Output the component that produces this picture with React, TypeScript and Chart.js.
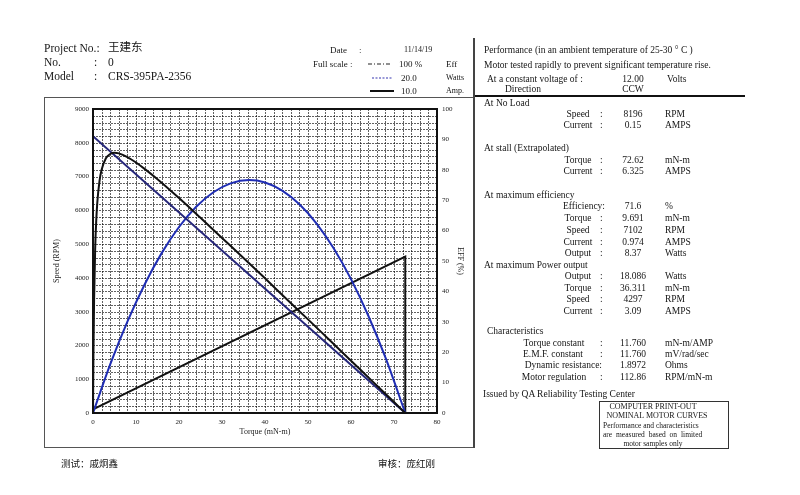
import React, { useEffect, useRef } from 'react';
import { Chart, registerables } from 'chart.js';
Chart.register(...registerables);

// ---- data ----
const speedTorque = [0, 72.62];
const speedRpm = [8196, 0];

const currentTorque = [0, 72.62, 72.62];
const currentAmp = [0.15, 6.325, 0];

const powerTorque = [0, 4, 8, 12, 16, 20, 24, 28, 32, 36.31, 40, 44, 48, 52, 56, 60, 64, 68, 72.62];
const powerWatts = [0, 3.77, 7.09, 9.98, 12.43, 14.44, 16.01, 17.14, 17.83, 18.086, 17.9, 17.27, 16.21, 14.71, 12.77, 10.39, 7.57, 4.31, 0];

const effTorque = [0, 0.1, 0.25, 0.5, 0.75, 1, 1.5, 2, 3, 4, 5, 6, 8, 10, 12, 15, 20, 25, 30, 35, 40, 45, 50, 55, 60, 65, 70, 72.62];
const effPct = [0, 19.1, 37.0, 53.8, 63.2, 69.2, 76.2, 80.0, 83.8, 85.2, 85.6, 85.4, 84.2, 82.4, 80.3, 76.9, 70.7, 64.2, 57.6, 51.0, 44.3, 37.5, 30.8, 24.0, 17.2, 10.4, 3.6, 0];

const xMinorStep = 2;
const yMinorStep = 200;

const noLoadRows = [
  ['Speed', '8196', 'RPM'],
  ['Current', '0.15', 'AMPS'],
];
const stallRows = [
  ['Torque', '72.62', 'mN-m'],
  ['Current', '6.325', 'AMPS'],
];
const maxEffRows = [
  ['Torque', '9.691', 'mN-m'],
  ['Speed', '7102', 'RPM'],
  ['Current', '0.974', 'AMPS'],
  ['Output', '8.37', 'Watts'],
];
const maxPowRows = [
  ['Output', '18.086', 'Watts'],
  ['Torque', '36.311', 'mN-m'],
  ['Speed', '4297', 'RPM'],
  ['Current', '3.09', 'AMPS'],
];
const charRows = [
  ['Torque constant', '11.760', 'mN-m/AMP'],
  ['E.M.F. constant', '11.760', 'mV/rad/sec'],
  ['Motor regulation', '112.86', 'RPM/mN-m'],
];

const SERIF = "'Liberation Serif', 'Times New Roman', 'Noto Sans CJK SC', serif";

function T({ x, y, s = 9.5, a = 'l', children, style }: any) {
  const tx = a === 'c' ? '-50%' : a === 'r' ? '-100%' : '0';
  return (
    <div
      style={{
        position: 'absolute',
        left: x,
        top: y,
        transform: `translate(${tx}, -50%)`,
        fontSize: s,
        lineHeight: 1,
        whiteSpace: 'nowrap',
        color: '#151515',
        ...style,
      }}
    >
      {children}
    </div>
  );
}

function Row({ y, r, lx = 578, la = 'c' }: any) {
  return (
    <>
      <T x={lx} y={y} a={la}>{r[0]}</T>
      <T x={600} y={y}>:</T>
      <T x={633} y={y} a="c">{r[1]}</T>
      <T x={665} y={y}>{r[2]}</T>
    </>
  );
}

const gridPlugin = {
  id: 'denseGrid',
  beforeDatasetsDraw(chart: any) {
    const { ctx, chartArea } = chart;
    const xs = chart.scales.x;
    const ys = chart.scales.y;
    ctx.save();
    ctx.strokeStyle = 'rgba(0,0,0,0.62)';
    ctx.lineWidth = 1;
    ctx.setLineDash([2, 1]);
    for (let v = 0; v <= 80; v += xMinorStep) {
      const px = Math.round(xs.getPixelForValue(v)) + 0.5;
      ctx.beginPath();
      ctx.moveTo(px, chartArea.top);
      ctx.lineTo(px, chartArea.bottom);
      ctx.stroke();
    }
    for (let v = 0; v <= 9000; v += yMinorStep) {
      const py = Math.round(ys.getPixelForValue(v)) + 0.5;
      ctx.beginPath();
      ctx.moveTo(chartArea.left, py);
      ctx.lineTo(chartArea.right, py);
      ctx.stroke();
    }
    ctx.restore();
  },
  afterDraw(chart: any) {
    const { ctx, chartArea } = chart;
    ctx.save();
    ctx.strokeStyle = '#111';
    ctx.lineWidth = 2;
    ctx.setLineDash([]);
    ctx.strokeRect(chartArea.left, chartArea.top, chartArea.right - chartArea.left, chartArea.bottom - chartArea.top);
    ctx.restore();
  },
};

const plainLabel = (v: any) => String(v);

export default function App() {
  const ref = useRef<HTMLCanvasElement | null>(null);

  useEffect(() => {
    if (!ref.current) return;
    const tickFont = { family: SERIF, size: 7 };
    const titleFont = { family: SERIF, size: 8 };
    const chart = new Chart(ref.current, {
      type: 'scatter',
      data: {
        datasets: [
          {
            label: 'Eff',
            data: effTorque.map((t, i) => ({ x: t, y: effPct[i] })),
            yAxisID: 'yEff',
            showLine: true,
            borderColor: '#111',
            borderWidth: 2,
            pointRadius: 0,
            cubicInterpolationMode: 'monotone',
          },
          {
            label: 'Speed',
            data: speedTorque.map((t, i) => ({ x: t, y: speedRpm[i] })),
            yAxisID: 'y',
            showLine: true,
            borderColor: '#25267a',
            borderWidth: 2,
            pointRadius: 0,
          },
          {
            label: 'Watts',
            data: powerTorque.map((t, i) => ({ x: t, y: powerWatts[i] })),
            yAxisID: 'yPow',
            showLine: true,
            borderColor: '#1f2db4',
            borderWidth: 2,
            pointRadius: 0,
            cubicInterpolationMode: 'monotone',
          },
          {
            label: 'Amp',
            data: currentTorque.map((t, i) => ({ x: t, y: currentAmp[i] })),
            yAxisID: 'yCur',
            showLine: true,
            borderColor: '#111',
            borderWidth: 2,
            pointRadius: 0,
          },
        ],
      },
      options: {
        responsive: false,
        animation: false,
        events: [],
        layout: { padding: { left: 47, top: 109, right: 334, bottom: 57 } },
        plugins: { legend: { display: false }, tooltip: { enabled: false } },
        scales: {
          x: {
            type: 'linear',
            min: 0,
            max: 80,
            ticks: { stepSize: 10, maxTicksLimit: 1000, autoSkip: false, maxRotation: 0, padding: 5, font: tickFont, color: '#222', callback: plainLabel },
            grid: { display: false, drawTicks: false },
            border: { display: false },
            title: { display: true, text: 'Torque (mN-m)', font: titleFont, color: '#222', padding: { top: 0, bottom: 1 } },
            afterFit: (s: any) => { s.height = 25; },
          },
          y: {
            position: 'left',
            min: 0,
            max: 9000,
            ticks: { stepSize: 1000, maxTicksLimit: 1000, autoSkip: false, padding: 4, font: tickFont, color: '#222', callback: plainLabel },
            grid: { display: false, drawTicks: false },
            border: { display: false },
            title: { display: true, text: 'Speed (RPM)', font: titleFont, color: '#222', padding: { top: 5, bottom: 0 } },
            afterFit: (s: any) => { s.width = 46; },
          },
          yEff: {
            position: 'right',
            min: 0,
            max: 100,
            ticks: { stepSize: 10, maxTicksLimit: 1000, autoSkip: false, padding: 5, font: tickFont, color: '#222', callback: plainLabel },
            grid: { display: false, drawTicks: false },
            border: { display: false },
            title: { display: true, text: 'EFF (%)', font: titleFont, color: '#222', padding: { top: 1, bottom: 0 } },
            afterFit: (s: any) => { s.width = 29; },
          },
          yPow: { display: false, min: 0, max: 23.6 },
          yCur: { display: false, min: 0, max: 12.3 },
        },
      } as any,
      plugins: [gridPlugin],
    });
    return () => chart.destroy();
  }, []);

  return (
    <div
      style={{
        position: 'absolute',
        left: 0,
        top: 0,
        width: 800,
        height: 495,
        background: '#fff',
        fontFamily: SERIF,
        overflow: 'hidden',
      }}
    >
      <canvas ref={ref} width={800} height={495} style={{ position: 'absolute', left: 0, top: 0, width: 800, height: 495 }} />

      {/* frames */}
      <div style={{ position: 'absolute', left: 44, top: 97, width: 429, height: 349, border: '1px solid #555' }} />
      <div style={{ position: 'absolute', left: 473, top: 38, width: 0, height: 410, borderLeft: '2px solid #444' }} />
      <div style={{ position: 'absolute', left: 475, top: 95, width: 270, height: 0, borderTop: '2px solid #111' }} />
      <div style={{ position: 'absolute', left: 599, top: 401, width: 128, height: 46, border: '1px solid #333' }} />

      {/* header left */}
      <T x={44} y={49} s={11.5}>Project No.:</T>
      <T x={108} y={48} s={11.5}>王建东</T>
      <T x={44} y={63} s={11.5}>No.</T>
      <T x={94} y={63} s={11.5}>:</T>
      <T x={108} y={63} s={11.5}>0</T>
      <T x={44} y={77} s={11.5}>Model</T>
      <T x={94} y={77} s={11.5}>:</T>
      <T x={108} y={77} s={11.5}>CRS-395PA-2356</T>

      {/* header middle */}
      <T x={330} y={50} s={9}>Date</T>
      <T x={359} y={50} s={9}>:</T>
      <T x={404} y={50} s={8}>11/14/19</T>
      <T x={313} y={64} s={9}>Full scale :</T>
      <svg style={{ position: 'absolute', left: 360, top: 58 }} width={40} height={40}>
        <line x1={8} y1={6} x2={30} y2={6} stroke="#222" strokeWidth={1.2} strokeDasharray="4 2 1 2" />
        <line x1={12} y1={20} x2={33} y2={20} stroke="#3535b0" strokeWidth={1.2} strokeDasharray="2 1.5" />
        <line x1={10} y1={33} x2={34} y2={33} stroke="#111" strokeWidth={2} />
      </svg>
      <T x={399} y={64} s={9}>100 %</T>
      <T x={446} y={64} s={9}>Eff</T>
      <T x={401} y={78} s={9}>20.0</T>
      <T x={446} y={78} s={8}>Watts</T>
      <T x={401} y={91} s={9}>10.0</T>
      <T x={446} y={91} s={8}>Amp.</T>

      {/* right panel */}
      <T x={484} y={51}>Performance (in an ambient temperature of 25-30 ° C )</T>
      <T x={484} y={66}>Motor tested rapidly to prevent significant temperature rise.</T>
      <T x={487} y={80}>At a constant voltage of :</T>
      <T x={633} y={80} a="c">12.00</T>
      <T x={667} y={80}>Volts</T>
      <T x={505} y={90}>Direction</T>
      <T x={633} y={90} a="c">CCW</T>

      <T x={484} y={104}>At No Load</T>
      <Row y={115} r={noLoadRows[0]} />
      <Row y={126} r={noLoadRows[1]} />

      <T x={484} y={149}>At stall (Extrapolated)</T>
      <Row y={161} r={stallRows[0]} />
      <Row y={172} r={stallRows[1]} />

      <T x={484} y={196}>At maximum efficiency</T>
      <T x={605} y={207} a="r">Efficiency:</T>
      <T x={633} y={207} a="c">71.6</T>
      <T x={665} y={207}>%</T>
      <Row y={219} r={maxEffRows[0]} />
      <Row y={231} r={maxEffRows[1]} />
      <Row y={243} r={maxEffRows[2]} />
      <Row y={254} r={maxEffRows[3]} />

      <T x={484} y={266}>At maximum Power output</T>
      <Row y={277} r={maxPowRows[0]} />
      <Row y={289} r={maxPowRows[1]} />
      <Row y={300} r={maxPowRows[2]} />
      <Row y={312} r={maxPowRows[3]} />

      <T x={487} y={332}>Characteristics</T>
      <Row y={344} r={charRows[0]} lx={554} />
      <Row y={355} r={charRows[1]} lx={553} />
      <T x={602} y={366} a="r">Dynamic resistance:</T>
      <T x={633} y={366} a="c">1.8972</T>
      <T x={665} y={366}>Ohms</T>
      <Row y={378} r={charRows[2]} lx={554} />

      <T x={483} y={395}>Issued by QA Reliability Testing  Center</T>

      <T x={653} y={407} s={8} a="c">COMPUTER PRINT-OUT</T>
      <T x={657} y={416} s={8} a="c">NOMINAL MOTOR CURVES</T>
      <T x={603} y={426} s={7.5}>Performance and characteristics</T>
      <T x={603} y={435} s={7.5} style={{ wordSpacing: 2 }}>are measured based on limited</T>
      <T x={653} y={444} s={7.5} a="c">motor samples only</T>

      {/* bottom signatures */}
      <T x={61} y={465} s={9.5}>测试：戚炯鑫</T>
      <T x={378} y={465} s={9.5}>审核：庞红刚</T>
    </div>
  );
}
